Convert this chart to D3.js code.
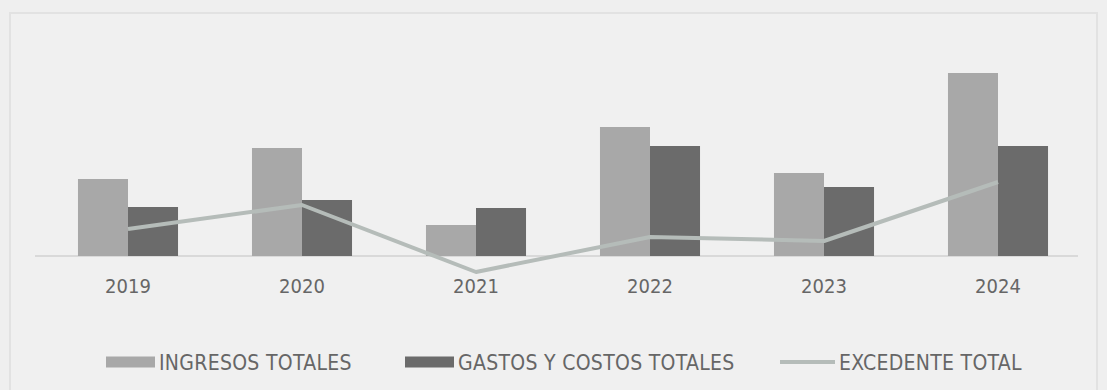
<!DOCTYPE html>
<html>
<head>
<meta charset="utf-8">
<script src="https://cdn.jsdelivr.net/npm/d3@7"></script>
<style>
  body { margin: 0; background: #efefef; }
  svg { display: block; }
  text { font-family: "DejaVu Sans Condensed", "Liberation Sans Narrow", "Liberation Sans", sans-serif; }
</style>
</head>
<body>
<div id="chart"></div>
<script>
// values (no axis, arbitrary units)
const years = ["2019", "2020", "2021", "2022", "2023", "2024"];
const ingresos = [77, 108, 31, 129, 83, 183];
const gastos = [49, 56, 48, 110, 69, 110];
const excedente = [27, 51, -16, 19, 15, 74];
const seriesNames = ["INGRESOS TOTALES", "GASTOS Y COSTOS TOTALES", "EXCEDENTE TOTAL"];

const W = 1107, H = 390;
const colIng = "#a8a8a8", colGas = "#6b6b6b", colExc = "#b5bcb9";

const svg = d3.select("#chart").append("svg")
  .attr("width", W)
  .attr("height", H);

svg.append("rect")
  .attr("width", W).attr("height", H)
  .attr("fill", "#efefef");

// faint frame of the chart area
svg.append("rect")
  .attr("x", 10).attr("y", 13)
  .attr("width", W - 20).attr("height", H - 10)
  .attr("fill", "#f0f0f0")
  .attr("stroke", "#e2e2e2")
  .attr("stroke-width", 2);

let x = d3.scaleBand()
  .domain(years)
  .range([41, 1085])
  .paddingInner(0.425)
  .paddingOuter(0.2125);

let x1 = d3.scaleBand()
  .domain([0, 1])
  .range([0, x.bandwidth()]);

let y = d3.scaleLinear()
  .domain([-40, 200])
  .range([296, 56]);

// baseline + year labels
svg.append("line")
  .attr("x1", 35).attr("x2", 1078)
  .attr("y1", y(0)).attr("y2", y(0))
  .attr("stroke", "#d9d9d9")
  .attr("stroke-width", 2);

const xAxis = svg.append("g")
  .attr("transform", "translate(0," + (y(0) + 20) + ")")
  .call(d3.axisBottom(x).tickSize(0));
xAxis.select(".domain").remove();
xAxis.selectAll("text")
  .attr("fill", "#666666")
  .style("font-size", "20px")
  .style("font-family", "'DejaVu Sans Condensed', 'Liberation Sans', sans-serif");

// bars
const groups = svg.selectAll("g.year")
  .data(years)
  .enter()
  .append("g")
    .attr("class", "year")
    .attr("transform", d => "translate(" + x(d) + ",0)");

groups.append("rect")
  .attr("x", x1(0))
  .attr("width", x1.bandwidth())
  .attr("y", (d, i) => y(ingresos[i]))
  .attr("height", (d, i) => y(0) - y(ingresos[i]))
  .attr("fill", colIng);

groups.append("rect")
  .attr("x", x1(1))
  .attr("width", x1.bandwidth())
  .attr("y", (d, i) => y(gastos[i]))
  .attr("height", (d, i) => y(0) - y(gastos[i]))
  .attr("fill", colGas);

// line
const line = d3.line()
  .x((d, i) => x(years[i]) + x.bandwidth() / 2)
  .y(d => y(d));

svg.append("path")
  .datum(excedente)
  .attr("d", line)
  .attr("fill", "none")
  .attr("stroke", colExc)
  .attr("stroke-width", 4)
  .attr("stroke-linejoin", "round");

// legend
const legend = [
  {name: seriesNames[0], x: 106, type: "bar", color: colIng, w: 49},
  {name: seriesNames[1], x: 405, type: "bar", color: colGas, w: 49},
  {name: seriesNames[2], x: 780, type: "line", color: colExc, w: 55}
];
const ly = 362;
const lg = svg.selectAll("g.legend")
  .data(legend)
  .enter()
  .append("g")
    .attr("class", "legend")
    .attr("transform", d => "translate(" + d.x + "," + ly + ")");

lg.filter(d => d.type === "bar").append("rect")
  .attr("x", 0).attr("y", -5.5)
  .attr("width", d => d.w).attr("height", 11)
  .attr("fill", d => d.color);

lg.filter(d => d.type === "line").append("line")
  .attr("x1", 0).attr("x2", d => d.w)
  .attr("y1", 0).attr("y2", 0)
  .attr("stroke", d => d.color)
  .attr("stroke-width", 4);

lg.append("text")
  .attr("x", d => d.w + 4)
  .attr("y", 0)
  .attr("dy", "0.36em")
  .attr("fill", "#666666")
  .style("font-size", "21px")
  .style("letter-spacing", "0.3px")
  .text(d => d.name);
</script>
</body>
</html>
